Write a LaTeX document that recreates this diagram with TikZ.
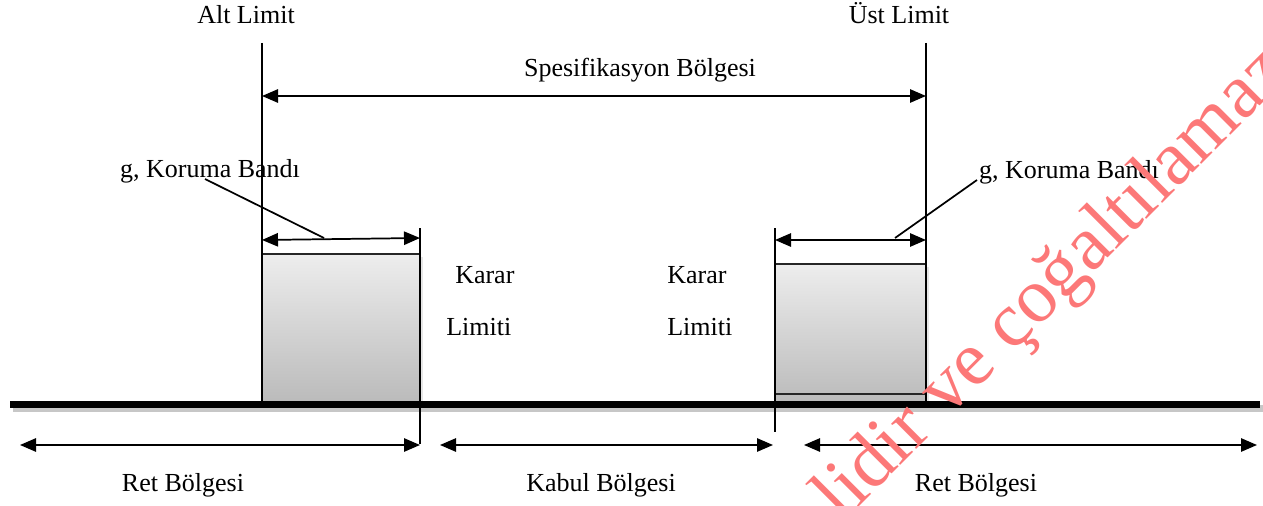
\documentclass[tikz,border=0pt]{standalone}
\usepackage{fontspec}
\setmainfont{Liberation Serif}
\usetikzlibrary{arrows.meta,shadows}
\definecolor{wmred}{RGB}{252,120,120}
\begin{document}
\begin{tikzpicture}[x=0.75pt,y=-0.75pt,
  lbl/.style={font=\fontsize{19.5}{22}\selectfont, inner sep=0pt, anchor=base},
  lblw/.style={lbl, anchor=base west},
  ln/.style={line width=1.3pt},
  dbl/.style={ln, {Triangle[length=12pt,width=10pt]}-{Triangle[length=12pt,width=10pt]}},
  band/.style={draw=black!85, line width=1.3pt, top color=black!7, bottom color=black!27,
    drop shadow={opacity=0.2, shadow xshift=2.5pt, shadow yshift=-2.5pt}},
  base/.style={line width=5.25pt},
  baseshadow/.style={line width=5.25pt, black!22},
  wm/.style={font=\fontsize{58}{62}\selectfont, text=wmred, inner sep=0pt, anchor=base west, rotate=45}]
\useasboundingbox (0,0) rectangle (1263,506);

% key coordinates
\coordinate (altT) at (262,43);   \coordinate (altB) at (262,404);
\coordinate (ustT) at (926,43);   \coordinate (ustB) at (926,404);
\coordinate (decLT) at (420,228); \coordinate (decLB) at (420,444);
\coordinate (decRT) at (775,228); \coordinate (decRB) at (775,432);
\coordinate (specL) at (262,96);  \coordinate (specR) at (926,96);
\coordinate (gbLL) at (262,240);  \coordinate (gbLR) at (420,238);
\coordinate (gbRL) at (775,240);  \coordinate (gbRR) at (926,240);
\coordinate (legL) at (324,238);  \coordinate (legR) at (895,238);
\coordinate (baseL) at (10,404);  \coordinate (baseR) at (1260,404);
\coordinate (r1L) at (20,445);    \coordinate (r1R) at (420,445);
\coordinate (kbL) at (440,445);   \coordinate (kbR) at (773,445);
\coordinate (r2L) at (804,445);   \coordinate (r2R) at (1257,445);

% guard band boxes
\path[band] (262,254) rectangle (420,404);
\path[band] (775,264) rectangle (926,404);
\draw[draw=black!85, line width=1.3pt] (775,394) -- (926,394);

% base line with shadow
\draw[baseshadow] ([shift={(3,4)}]baseL) -- ([shift={(3,4)}]baseR);
\draw[base] (baseL) -- (baseR);

% vertical limit lines
\draw[ln] (altT) -- (altB);
\draw[ln] (ustT) -- (ustB);
\draw[ln] (decLT) -- (decLB);
\draw[ln] (decRT) -- (decRB);

% texts
\node[lbl] (alt) at (246,24) {Alt Limit};
\node[lbl] (ust) at (899,24) {Üst Limit};
\node[lbl] (spec) at (640,77) {Spesifikasyon Bölgesi};
\node[lbl] (gL) at (210,177) {g, Koruma Bandı};
\node[lbl] (gR) at (1069,179) {g, Koruma Bandı};
\node[lblw] (k1) at (455,283) {Karar};
\node[lblw] (l1) at (446,335) {Limiti};
\node[lblw] (k2) at (667,283) {Karar};
\node[lblw] (l2) at (667,335) {Limiti};
\node[lbl] (r1) at (183,491) {Ret Bölgesi};
\node[lbl] (kb) at (601,491) {Kabul Bölgesi};
\node[lbl] (r2) at (976,491) {Ret Bölgesi};

% arrows
\draw[dbl] (specL) -- (specR);
\draw[dbl] (gbLL) -- (gbLR);
\draw[dbl] (gbRL) -- (gbRR);
\draw[dbl] (r1L) -- (r1R);
\draw[dbl] (kbL) -- (kbR);
\draw[dbl] (r2L) -- (r2R);

% leader lines
\coordinate (gLs) at (205,179);
\coordinate (gRs) at (977,180);
\draw[ln] (gLs) -- (legL);
\draw[ln] (gRs) -- (legR);

% watermark
\begin{scope}
\clip (0,0) rectangle (1263,506);
\node[wm] (wmk) at (842,524) {lidir ve çoğaltılamaz};
\end{scope}
\end{tikzpicture}
\end{document}
